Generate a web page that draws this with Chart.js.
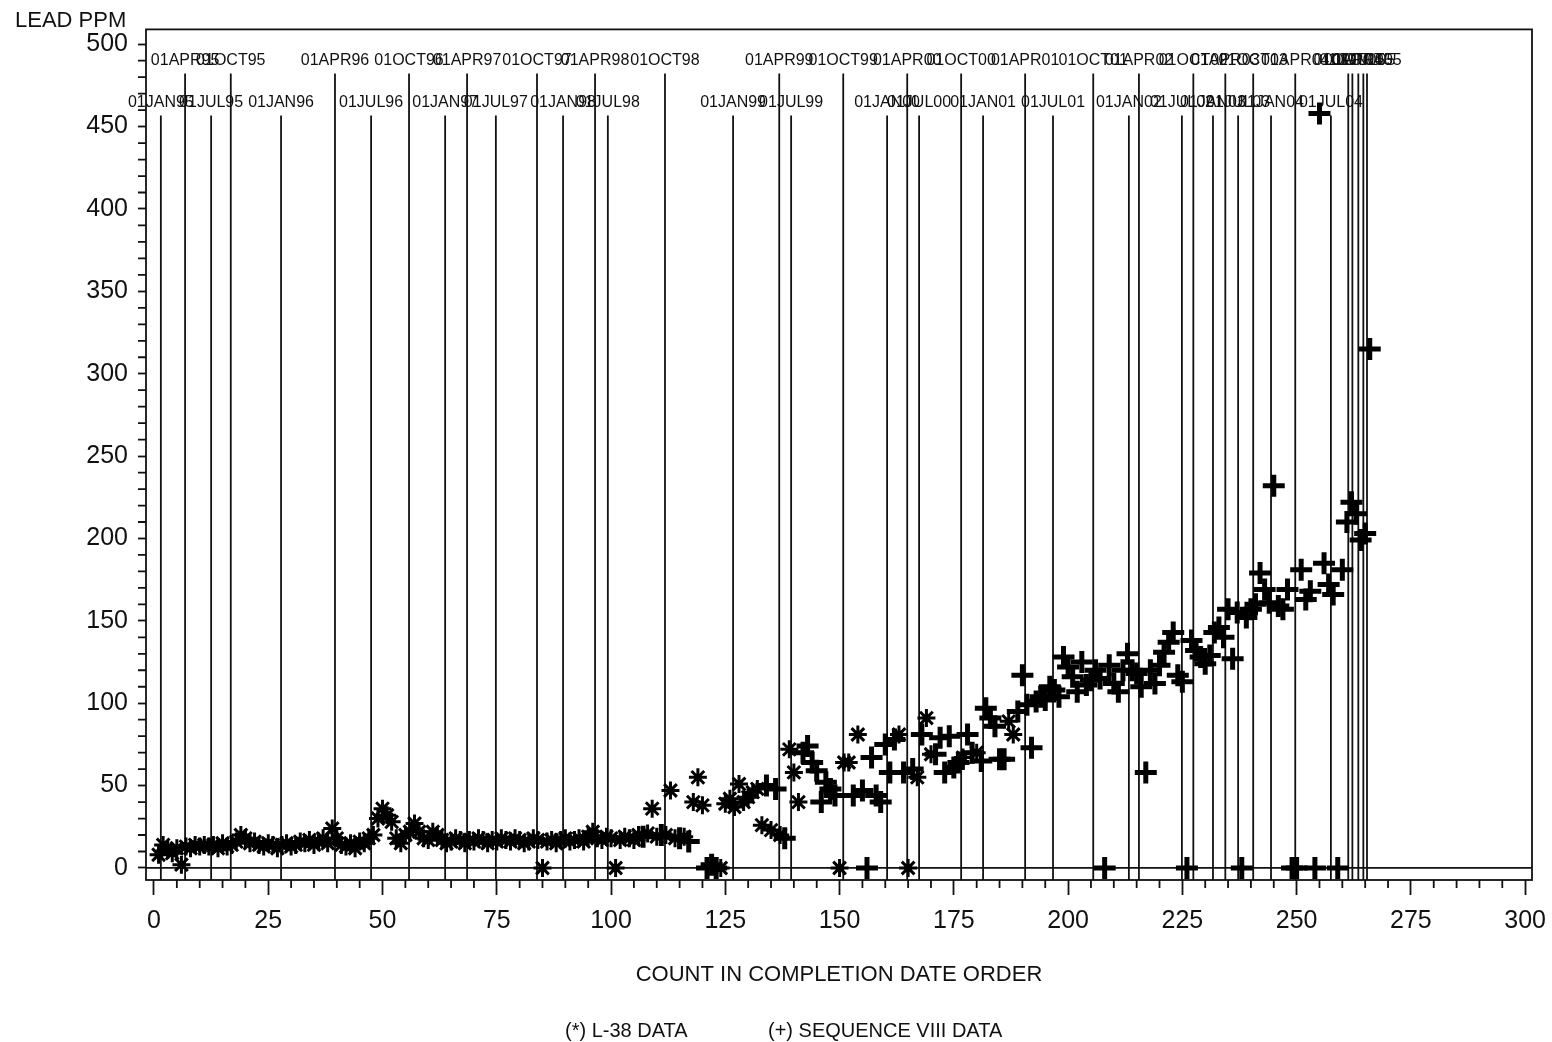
<!DOCTYPE html>
<html>
<head>
<meta charset="utf-8">
<title>Lead PPM by completion count</title>
<script src="https://cdn.jsdelivr.net/npm/chart.js@4.4.1/dist/chart.umd.min.js"></script>
<style>
  html, body { margin: 0; padding: 0; background: #ffffff; }
  #wrap { width: 1552px; height: 1042px; position: relative; }
</style>
</head>
<body>
<div id="wrap"><canvas id="c"></canvas></div>
<script>
// ---------------- DATA ----------------
const seriesLabels = ['(*) L-38 DATA', '(+) SEQUENCE VIII DATA'];

const l38X = [1,2,3,4,5,6,7,8,9,10,11,12,13,14,15,16,17,18,19,20,21,22,23,24,25,26,27,28,29,30,
  31,32,33,34,35,36,37,38,39,40,41,42,43,44,45,46,47,48,49,50,51,52,53,54,55,56,57,58,59,60,
  61,62,63,64,65,66,67,68,69,70,71,72,73,74,75,76,77,78,79,80,81,82,83,84,85,86,87,88,89,90,
  91,92,93,94,95,96,97,98,99,100,101,102,103,104,105,106,108,109,110,112,113,114,116,118,119,120,
  124,125,126,127,128,129,130,131,132,133,135,137,139,140,141,150,151,152,154,163,165,167,169,170,
  177,180,187,188];
const l38Y = [8,14,11,9,12,2,13,12,14,13,
  14,13,14,12,15,13,14,16,20,18,
  15,16,14,13,15,14,12,14,15,13,
  14,16,15,17,14,16,18,15,24,18,
  14,13,15,12,16,15,18,20,30,36,
  32,28,18,15,20,22,27,22,18,17,
  22,20,17,15,16,18,17,15,17,16,
  18,17,15,17,16,18,17,16,18,17,
  15,16,18,17,0,16,17,15,17,18,
  16,17,18,16,19,22,18,17,19,18,
  0,17,19,18,17,20,21,36,19,20,47,18,19,40,55,38,
  0,39,42,37,51,40,43,46,48,26,23,20,72,58,40,0,64,64,81,81,0,55,91,69,
  67,70,89,81];

const seqX = [107,111,115,117,121,122,123,134,136,138,142,143,144,145,146,147,148,149,153,155,
  156,157,158,159,160,161,162,164,166,168,171,172,173,174,175,176,178,179,181,182,
  183,184,185,186,189,190,191,192,193,194,195,196,197,198,199,200,201,202,203,204,
  205,206,207,208,209,210,211,212,213,214,215,216,217,218,219,220,221,222,223,224,
  225,226,227,228,229,230,231,232,233,234,235,236,237,238,239,240,241,242,243,244,
  245,246,247,248,249,250,251,252,253,254,255,256,257,258,259,260,261,262,263,264,
  265,266];
const seqY = [19,20,18,16,0,2,0,50,48,18,70,74,64,59,40,52,48,44,44,47,
  0,67,44,40,75,58,78,58,60,81,69,79,58,80,61,64,81,70,65,97,
  91,86,66,66,95,117,99,73,101,104,102,110,108,104,128,122,116,107,125,111,
  114,120,115,0,123,112,107,120,130,120,118,110,58,120,112,123,131,137,143,117,
  113,0,138,132,128,124,129,143,146,140,157,127,155,0,152,157,160,179,169,161,
  232,159,157,169,0,0,181,163,168,0,458,185,172,166,0,181,210,222,215,199,
  203,315];

// date reference lines (position on the count axis) and their labels
const refLineX = [1.5,6.8,12.5,16.8,27.8,39.6,47.5,55.8,63.7,68.5,74.8,83.8,89.5,96.5,99.3,111.8,
  126.7,136.8,139.4,150.8,160.4,164.8,167.4,176.6,181.4,190.6,196.7,205.5,213.3,215.5,
  224.9,227.4,231.7,234.4,237.2,240.5,244.4,249.7,257.5,261.3,262.2,263.5,264.6,265.4];
const refLineLabels = ['01JAN95','01APR95','01JUL95','01OCT95','01JAN96','01APR96','01JUL96','01OCT96',
  '01JAN97','01APR97','01JUL97','01OCT97','01JAN98','01APR98','01JUL98','01OCT98',
  '01JAN99','01APR99','01JUL99','01OCT99','01JAN00','01APR00','01JUL00','01OCT00',
  '01JAN01','01APR01','01JUL01','01OCT01','01JAN02','01APR02','01JUL02','01OCT02',
  '01JAN03','01APR03','01JUL03','01OCT03','01JAN04','01APR04','01JUL04',
  '01OCT04','01JAN05','01APR05','01JUL05','01OCT05'];
const refLineRow = [2,1,2,1,2,1,2,1,2,1,2,1,2,1,2,1,2,1,2,1,2,1,2,1,2,1,2,1,2,1,2,1,2,1,2,1,2,1,2,
  1,1,1,1,1];

const xTickValues = [0,25,50,75,100,125,150,175,200,225,250,275,300];
const yTickValues = [0,50,100,150,200,250,300,350,400,450,500];
const xMinorStep = 5;
const yMinorStep = 10;

// ---------------- STYLE / DRAW ----------------
const INK = '#111111';
const FONT = '"Liberation Sans", Arial, sans-serif';
const LW = 1.8;

function pts(xs, ys) { return xs.map((v, i) => ({ x: v, y: ys[i] })); }

const overlay = {
  id: 'overlay',
  beforeDatasetsDraw(chart) {
    const { ctx, chartArea: a, scales: { x, y } } = chart;
    ctx.save();
    ctx.strokeStyle = INK;
    ctx.lineWidth = LW;
    const y0 = y.getPixelForValue(0);
    ctx.beginPath(); ctx.moveTo(a.left, y0); ctx.lineTo(a.right, y0); ctx.stroke();
    ctx.font = '16px ' + FONT;
    ctx.fillStyle = INK;
    ctx.textAlign = 'center';
    ctx.textBaseline = 'middle';
    refLineX.forEach((v, i) => {
      const px = x.getPixelForValue(v);
      const row = refLineRow[i];
      const ty = a.top + (row === 1 ? 31 : 73);
      const ly = a.top + (row === 1 ? 44 : 86);
      ctx.beginPath(); ctx.moveTo(px, ly); ctx.lineTo(px, a.bottom); ctx.stroke();
      ctx.fillText(refLineLabels[i], px, ty);
    });
    ctx.restore();
  },
  afterDraw(chart) {
    const { ctx, chartArea: a, scales: { x, y } } = chart;
    ctx.save();
    ctx.strokeStyle = INK;
    ctx.lineWidth = LW;
    ctx.strokeRect(a.left, a.top, a.right - a.left, a.bottom - a.top);
    ctx.beginPath();
    for (let v = 0; v <= 300; v += xMinorStep) {
      if (v % 25 === 0) continue;
      const px = x.getPixelForValue(v);
      ctx.moveTo(px, a.bottom); ctx.lineTo(px, a.bottom + 8);
    }
    for (let v = 0; v <= 500; v += yMinorStep) {
      if (v % 50 === 0) continue;
      const py = y.getPixelForValue(v);
      ctx.moveTo(a.left - 8, py); ctx.lineTo(a.left, py);
    }
    ctx.stroke();
    ctx.font = '20px ' + FONT;
    ctx.fillStyle = INK;
    ctx.textAlign = 'left';
    ctx.textBaseline = 'alphabetic';
    ctx.fillText(seriesLabels[0], 565, 1037);
    ctx.fillText(seriesLabels[1], 768, 1037);
    ctx.restore();
  }
};

new Chart(document.getElementById('c'), {
  type: 'scatter',
  data: {
    datasets: [
      {
        label: seriesLabels[0],
        data: pts(l38X, l38Y),
        pointStyle: 'star',
        radius: 9,
        borderWidth: 3,
        borderColor: '#000',
        backgroundColor: '#000'
      },
      {
        label: seriesLabels[1],
        data: pts(seqX, seqY),
        pointStyle: 'cross',
        radius: 11,
        borderWidth: 5,
        borderColor: '#000',
        backgroundColor: '#000'
      }
    ]
  },
  options: {
    responsive: true,
    maintainAspectRatio: false,
    animation: false,
    layout: { padding: { left: 15, right: 20, top: 0, bottom: 54 } },
    plugins: {
      legend: { display: false },
      tooltip: { enabled: false },
      title: {
        display: true,
        text: 'LEAD PPM',
        align: 'start',
        color: INK,
        font: { family: FONT, size: 22, weight: 'normal', lineHeight: 0.9 },
        padding: { top: 11, bottom: -1.4 }
      }
    },
    scales: {
      x: {
        type: 'linear',
        min: -1.75,
        max: 301.5,
        afterBuildTicks: (s) => { s.ticks = xTickValues.map(v => ({ value: v })); },
        afterFit: (s) => { s.height = 108; s.paddingLeft = 0; s.paddingRight = 0; },
        border: { display: false },
        grid: { drawOnChartArea: false, drawTicks: true, tickLength: 15, tickWidth: LW, tickColor: INK },
        ticks: { autoSkip: false, maxRotation: 0, padding: 11, color: INK, font: { family: FONT, size: 25 } },
        title: {
          display: true,
          text: 'COUNT IN COMPLETION DATE ORDER',
          color: INK,
          font: { family: FONT, size: 22 },
          padding: { top: 0, bottom: 0 }
        }
      },
      y: {
        type: 'linear',
        min: -7.3,
        max: 509,
        afterBuildTicks: (s) => { s.ticks = yTickValues.map(v => ({ value: v })); },
        afterFit: (s) => { s.width = 131; s.paddingTop = 0; s.paddingBottom = 0; },
        border: { display: false },
        grid: { drawOnChartArea: false, drawTicks: true, tickLength: 8, tickWidth: LW, tickColor: INK },
        ticks: { autoSkip: false, padding: 10, color: INK, font: { family: FONT, size: 25 } }
      }
    }
  },
  plugins: [overlay]
});
</script>
</body>
</html>
